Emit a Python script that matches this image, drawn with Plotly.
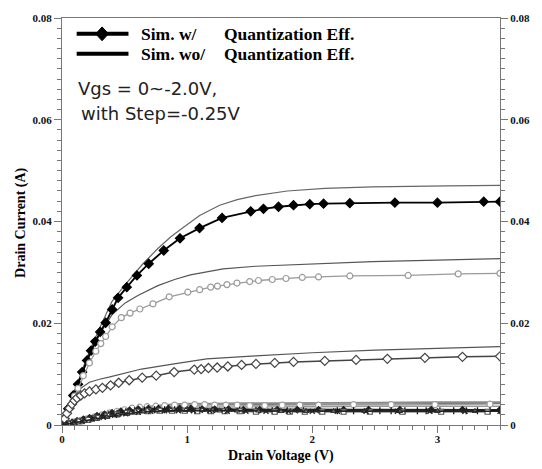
import plotly.graph_objects as go

# ---------------- data ----------------
VGS_LABELS = ["0", "-0.25", "-0.5", "-0.75", "-1.0", "-1.25", "-1.5", "-1.75", "-2.0"]

# Sim. w/ Quantization Eff. (markers)
W0_X = [0, 0.02, 0.05, 0.09, 0.128, 0.161, 0.2, 0.232, 0.266, 0.305, 0.349, 0.401, 0.448, 0.518, 0.599,
        0.693, 0.813, 0.943, 1.099, 1.279, 1.508, 1.61, 1.73, 1.85, 1.98, 2.09, 2.3, 2.66, 3.0, 3.37, 3.5]
W0_Y = [0, 0.0013, 0.0032, 0.0058, 0.0080, 0.0104, 0.0127, 0.0146, 0.0164, 0.0183, 0.0201, 0.0227, 0.0250,
        0.0271, 0.0294, 0.0317, 0.0343, 0.0367, 0.0387, 0.0407, 0.0420, 0.0425, 0.0429, 0.0432, 0.0434,
        0.0435, 0.0436, 0.0437, 0.0437, 0.0439, 0.0439]

W1_X = [0, 0.03, 0.07, 0.1, 0.128, 0.17, 0.219, 0.27, 0.31, 0.349, 0.401, 0.474, 0.544, 0.622, 0.727,
        0.857, 1.005, 1.1, 1.188, 1.242, 1.318, 1.398, 1.5, 1.57, 1.68, 1.79, 1.92, 2.05, 2.3, 2.766, 3.166, 3.5]
W1_Y = [0, 0.0017, 0.0040, 0.0057, 0.0072, 0.0097, 0.0122, 0.0145, 0.0160, 0.0174, 0.0193, 0.0211,
        0.0220, 0.0228, 0.0238, 0.0252, 0.0261, 0.0266, 0.0271, 0.0273, 0.0276, 0.0279, 0.0282, 0.0284,
        0.0286, 0.0288, 0.0290, 0.0291, 0.0293, 0.0294, 0.0297, 0.0298]

W2_X = [0, 0.02, 0.04, 0.06, 0.08, 0.1, 0.12, 0.15, 0.18, 0.22, 0.271, 0.323, 0.388, 0.453, 0.537, 0.641,
        0.753, 0.896, 1.057, 1.112, 1.17, 1.24, 1.325, 1.435, 1.55, 1.7, 1.85, 2.1, 2.35, 2.6, 2.9, 3.2, 3.5]
W2_Y = [0, 0.0012, 0.0023, 0.0033, 0.0041, 0.0048, 0.0053, 0.0058, 0.0062, 0.0066, 0.0070, 0.0073,
        0.0078, 0.0083, 0.0088, 0.0093, 0.0097, 0.0104, 0.0109, 0.0110, 0.0112, 0.0113, 0.0115, 0.0118,
        0.0120, 0.0122, 0.0124, 0.0126, 0.0128, 0.0130, 0.0132, 0.0134, 0.0135]

W3_X = [0, 0.05, 0.1, 0.15, 0.2, 0.26, 0.32, 0.38, 0.44, 0.5, 0.56, 0.62, 0.68, 0.75, 0.82, 0.9, 0.98,
        1.06, 1.14, 1.22, 1.31, 1.4, 1.5, 1.62, 1.76, 1.9, 2.05, 2.33, 2.63, 2.98, 3.42]
W3_Y = [0, 0.0003, 0.0006, 0.0009, 0.0012, 0.0016, 0.0020, 0.0024, 0.0027, 0.0030, 0.0033, 0.0035,
        0.0036, 0.0037, 0.0038, 0.0039, 0.0039, 0.0040, 0.0040, 0.0039, 0.0039, 0.0039, 0.0038, 0.0038,
        0.0039, 0.0039, 0.0039, 0.0040, 0.0040, 0.0040, 0.0041]

W4_X = [0, 0.04, 0.08, 0.12, 0.17, 0.22, 0.28, 0.34, 0.4, 0.47, 0.54, 0.61, 0.69, 0.77, 0.85, 0.94, 1.03,
        1.12, 1.22, 1.33, 1.45, 1.58, 1.72, 1.88, 2.05, 2.25, 2.45, 2.7, 2.95, 3.2, 3.5]
W4_Y = [0, 0.0002, 0.0005, 0.0008, 0.0011, 0.0014, 0.0018, 0.0021, 0.0024, 0.0027, 0.0029, 0.0031,
        0.0032, 0.0032, 0.0032, 0.0032, 0.0032, 0.0031, 0.0031, 0.0031, 0.0030, 0.0030, 0.0030, 0.0030,
        0.0030, 0.0030, 0.0030, 0.0030, 0.0030, 0.0030, 0.0030]

W5_X = [0, 0.06, 0.12, 0.18, 0.24, 0.3, 0.37, 0.44, 0.51, 0.58, 0.66, 0.74, 0.82, 0.9, 1.0, 1.1, 1.2, 1.3,
        1.42, 1.55, 1.68, 1.8, 1.93, 2.06, 2.2, 2.33, 2.45, 2.54, 2.63, 2.74, 2.84, 2.91, 3.02, 3.13, 3.23,
        3.32, 3.42, 3.5]
W5_Y = [0, 0.0003, 0.0006, 0.0010, 0.0013, 0.0016, 0.0020, 0.0023, 0.0026, 0.0028, 0.0029, 0.0030,
        0.0030, 0.0030, 0.0030, 0.0029, 0.0029, 0.0029, 0.0029, 0.0029, 0.0028, 0.0028, 0.0028, 0.0028,
        0.0028, 0.0028, 0.0028, 0.0028, 0.0028, 0.0028, 0.0028, 0.0028, 0.0028, 0.0028, 0.0028, 0.0028,
        0.0028, 0.0028]

W6_X = [0, 0.07, 0.14, 0.21, 0.28, 0.36, 0.44, 0.52, 0.6, 0.69, 0.78, 0.88, 0.98, 1.08, 1.19, 1.3, 1.42,
        1.55, 1.7, 1.82, 1.94, 2.08, 2.25, 2.46, 2.72, 3.03, 3.4]
W6_Y = [0, 0.0003, 0.0007, 0.0010, 0.0014, 0.0018, 0.0021, 0.0024, 0.0026, 0.0027, 0.0028, 0.0028,
        0.0028, 0.0027, 0.0027, 0.0027, 0.0027, 0.0026, 0.0026, 0.0026, 0.0026, 0.0026, 0.0026, 0.0026,
        0.0026, 0.0026, 0.0026]

W7_X = [0, 0.09, 0.18, 0.27, 0.36, 0.45, 0.55, 0.65, 0.76, 0.87, 0.99, 1.12, 1.26, 1.4, 1.57, 1.75, 1.95,
        2.17, 2.42, 2.7, 3.0, 3.3]
W7_Y = [0, 0.0004, 0.0008, 0.0012, 0.0016, 0.0020, 0.0024, 0.0026, 0.0028, 0.0029, 0.0029, 0.0029,
        0.0028, 0.0028, 0.0028, 0.0027, 0.0027, 0.0027, 0.0027, 0.0027, 0.0027, 0.0027]

W8_X = [0, 0.08, 0.16, 0.24, 0.33, 0.42, 0.51, 0.61, 0.71, 0.82, 0.93, 1.05, 1.18, 1.32, 1.47, 1.63, 1.81,
        2.0, 2.2, 2.43, 2.68, 2.94, 3.22, 3.5]
W8_Y = [0, 0.0003, 0.0007, 0.0011, 0.0015, 0.0019, 0.0022, 0.0025, 0.0027, 0.0028, 0.0028, 0.0028,
        0.0028, 0.0027, 0.0027, 0.0027, 0.0027, 0.0027, 0.0027, 0.0027, 0.0027, 0.0027, 0.0027, 0.0027]

# Sim. wo/ Quantization Eff. (plain lines)
WO0_X = [0, 0.1, 0.2, 0.3, 0.4, 0.505, 0.64, 0.766, 0.87, 0.974, 1.1, 1.26, 1.4, 1.547, 1.8, 2.1, 2.484, 3.08, 3.5]
WO0_Y = [0, 0.0068, 0.0133, 0.0190, 0.0243, 0.0276, 0.0315, 0.0347, 0.0370, 0.0389, 0.0412, 0.0432,
         0.0443, 0.0451, 0.0460, 0.0465, 0.0468, 0.0470, 0.0471]

WO1_X = [0, 0.1, 0.2, 0.3, 0.4, 0.505, 0.61, 0.766, 0.9, 1.026, 1.287, 1.547, 2.0, 2.48, 3.0, 3.5]
WO1_Y = [0, 0.0063, 0.0125, 0.0178, 0.0217, 0.0240, 0.0255, 0.0274, 0.0286, 0.0295, 0.0307, 0.0312,
         0.0317, 0.0321, 0.0324, 0.0327]

WO2_X = [0, 0.05, 0.1, 0.15, 0.219, 0.3, 0.375, 0.5, 0.635, 0.896, 1.156, 1.547, 2.0, 2.5, 3.0, 3.5]
WO2_Y = [0, 0.0030, 0.0055, 0.0072, 0.0084, 0.0090, 0.0094, 0.0102, 0.0110, 0.0120, 0.0130, 0.0136,
         0.0142, 0.0147, 0.0151, 0.0154]

WO_LOW_X = [0, 0.1, 0.2, 0.3, 0.4, 0.5, 0.6, 0.7, 0.8, 0.9, 1.0, 1.2, 1.4, 1.7, 2.0, 2.5, 3.0, 3.5]
WO3_Y = [0, 0.0006, 0.0013, 0.0019, 0.0025, 0.0030, 0.0034, 0.0037, 0.0039, 0.0041, 0.0042, 0.0042,
         0.0043, 0.0043, 0.0043, 0.0044, 0.0045, 0.0045]
WO4_Y = [0, 0.0006, 0.0012, 0.0018, 0.0023, 0.0028, 0.0032, 0.0035, 0.0037, 0.0038, 0.0039, 0.0040,
         0.0040, 0.0040, 0.0041, 0.0041, 0.0042, 0.0042]
WO5_Y = [0, 0.0005, 0.0011, 0.0016, 0.0021, 0.0026, 0.0029, 0.0032, 0.0034, 0.0035, 0.0035, 0.0036,
         0.0036, 0.0036, 0.0036, 0.0037, 0.0037, 0.0037]
WO6_Y = [0, 0.0005, 0.0010, 0.0015, 0.0020, 0.0024, 0.0027, 0.0029, 0.0030, 0.0031, 0.0031, 0.0031,
         0.0031, 0.0030, 0.0030, 0.0030, 0.0030, 0.0030]
WO7_Y = [0, 0.0005, 0.0010, 0.0015, 0.0019, 0.0023, 0.0026, 0.0028, 0.0029, 0.0030, 0.0030, 0.0030,
         0.0030, 0.0029, 0.0029, 0.0029, 0.0029, 0.0029]
WO8_Y = [0, 0.0004, 0.0009, 0.0014, 0.0018, 0.0022, 0.0025, 0.0027, 0.0028, 0.0029, 0.0029, 0.0029,
         0.0029, 0.0029, 0.0029, 0.0029, 0.0029, 0.0029]

X_TICKS = [0, 1, 2, 3]
Y_TICKS = [0, 0.02, 0.04, 0.06, 0.08]
Y_TICK_TEXT = ["0", "0.02", "0.04", "0.06", "0.08"]

LEGEND_W = "Sim. w/"
LEGEND_WO = "Sim. wo/"
LEGEND_Q = "Quantization Eff."
NOTE_1 = "Vgs = 0~-2.0V,"
NOTE_2 = "with Step=-0.25V"
X_TITLE = "Drain Voltage (V)"
Y_TITLE = "Drain Current (A)"

# ---------------- styles ----------------
wo_series = [(WO0_X, WO0_Y, "#666666", 1.2), (WO1_X, WO1_Y, "#555555", 1.2), (WO2_X, WO2_Y, "#555555", 1.2),
             (WO_LOW_X, WO3_Y, "#8a8a8a", 1.6), (WO_LOW_X, WO4_Y, "#777777", 1.4),
             (WO_LOW_X, WO5_Y, "#999999", 1.4), (WO_LOW_X, WO6_Y, "#333333", 1.6),
             (WO_LOW_X, WO7_Y, "#222222", 1.6), (WO_LOW_X, WO8_Y, "#111111", 1.6)]

w_series = [
    (W0_X, W0_Y, "#000000", 1.8, "diamond", 7, "#000000"),
    (W1_X, W1_Y, "#9a9a9a", 1.3, "circle", 6, "#ffffff"),
    (W2_X, W2_Y, "#444444", 1.5, "diamond", 7, "#ffffff"),
    (W3_X, W3_Y, "#a0a0a0", 1.3, "circle", 6, "#ffffff"),
    (W4_X, W4_Y, "#222222", 1.3, "diamond", 5, "#222222"),
    (W5_X, W5_Y, "#111111", 1.6, "cross-thin", 5, "#111111"),
    (W6_X, W6_Y, "#555555", 1.3, "square", 5, "#ffffff"),
    (W7_X, W7_Y, "#333333", 1.3, "triangle-up", 5, "#ffffff"),
    (W8_X, W8_Y, "#222222", 1.3, "x-thin", 5, "#222222"),
]

fig = go.Figure()
for i, (xs, ys, col, lw) in enumerate(wo_series):
    fig.add_trace(go.Scatter(x=xs, y=ys, mode="lines", line=dict(color=col, width=lw),
                             name="wo/ Vgs=" + VGS_LABELS[i], showlegend=False))
for i, (xs, ys, col, lw, sym, sz, fill) in enumerate(w_series):
    if sym in ("cross-thin", "x-thin"):
        marker = dict(symbol=sym, size=sz, line=dict(color=col, width=1.3), color=col)
    else:
        marker = dict(symbol=sym, size=sz, color=fill, line=dict(color=col, width=1.2))
    fig.add_trace(go.Scatter(x=xs, y=ys, mode="lines+markers", line=dict(color=col, width=lw),
                             marker=marker, name="w/ Vgs=" + VGS_LABELS[i], showlegend=False))
# right-hand axis carrier
fig.add_trace(go.Scatter(x=[None], y=[None], yaxis="y2", showlegend=False, hoverinfo="skip"))

# ---------------- layout ----------------
W, H = 542, 469
ML, MR, MT, MB = 62, 32, 14, 44
PW, PH = W - ML - MR, H - MT - MB

def px(xp):
    return (xp - ML) / PW

def py(yp):
    return (H - MB - yp) / PH

AX = "#777777"
tickfont = dict(family="Liberation Serif", size=11, color="#111111", weight="bold")
common_y = dict(range=[0, 0.08], tickmode="array", tickvals=Y_TICKS, ticktext=Y_TICK_TEXT,
                ticks="outside", ticklen=7, tickcolor=AX, tickwidth=1, showline=True, linecolor=AX,
                linewidth=1.3, showgrid=False, zeroline=False, tickfont=tickfont,
                minor=dict(dtick=0.002, ticks="outside", ticklen=4, tickcolor=AX, tickwidth=1))

fig.update_layout(
    width=W, height=H, margin=dict(l=ML, r=MR, t=MT, b=MB),
    plot_bgcolor="white", paper_bgcolor="white", showlegend=False,
    xaxis=dict(range=[0, 3.5], tickmode="array", tickvals=X_TICKS, ticks="outside", ticklen=7,
               tickcolor=AX, showline=True, linecolor=AX, linewidth=1.3, mirror=True,
               showgrid=False, zeroline=False, tickfont=tickfont, ticklabelstandoff=-3,
               minor=dict(dtick=0.1, tick0=0, ticks="outside", ticklen=4, tickcolor=AX, tickwidth=1)),
    yaxis=dict(**common_y, mirror=True),
    yaxis2=dict(**common_y, overlaying="y", side="right", anchor="x"),
)

ROW1, ROW2 = 30, 50
shapes = []
for yy in (ROW1, ROW2):
    shapes.append(dict(type="line", xref="paper", yref="paper", x0=px(77), x1=px(130), y0=py(yy), y1=py(yy),
                       line=dict(color="#000000", width=4)))
cx, cy, hw, hh = 103, ROW1, 6.5, 7
path = "M {} {} L {} {} L {} {} L {} {} Z".format(px(cx - hw), py(cy), px(cx), py(cy - hh),
                                                  px(cx + hw), py(cy), px(cx), py(cy + hh))
shapes.append(dict(type="path", xref="paper", yref="paper", path=path, fillcolor="#000000",
                   line=dict(color="#000000", width=1)))
fig.update_layout(shapes=shapes)

legfont = dict(family="Liberation Serif", size=17.5, color="#000000", weight="bold")
notefont = dict(family="DejaVu Sans", size=18, color="#222222")
ann = [
    dict(text=LEGEND_W, x=px(141), y=py(ROW1 + 0.5), font=legfont),
    dict(text=LEGEND_Q, x=px(226), y=py(ROW1 + 0.5), font=legfont),
    dict(text=LEGEND_WO, x=px(141), y=py(ROW2 + 0.5), font=legfont),
    dict(text=LEGEND_Q, x=px(226), y=py(ROW2 + 0.5), font=legfont),
    dict(text=NOTE_1, x=px(76), y=py(85), font=notefont),
    dict(text=NOTE_2, x=px(79), y=py(110), font=notefont),
]
for a in ann:
    a.update(xref="paper", yref="paper", xanchor="left", yanchor="middle", showarrow=False)
ann.append(dict(text=X_TITLE, x=px(286), y=py(456), xref="paper", yref="paper", xanchor="center",
                yanchor="middle", showarrow=False,
                font=dict(family="Liberation Serif", size=14, color="#000000", weight="bold")))
ann.append(dict(text=Y_TITLE, x=px(20), y=py(220), xref="paper", yref="paper", xanchor="center",
                yanchor="middle", showarrow=False, textangle=-90,
                font=dict(family="Liberation Serif", size=14, color="#000000", weight="bold")))
fig.update_layout(annotations=ann)

fig.write_html("out.html")
